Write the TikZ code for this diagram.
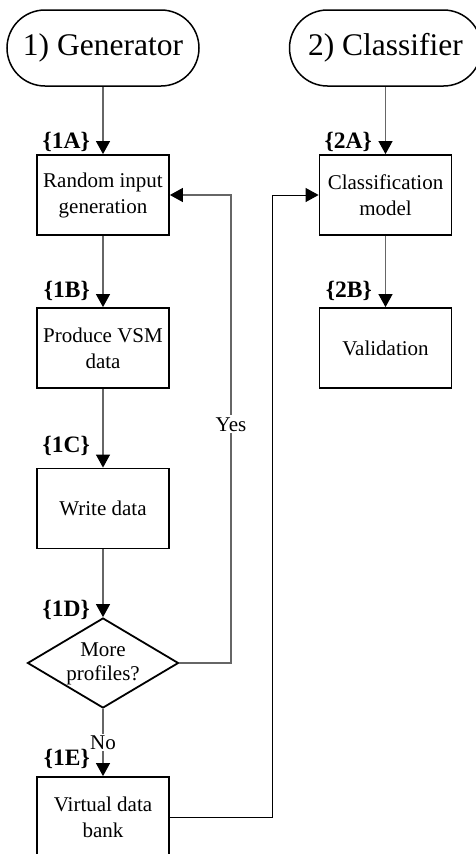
\documentclass[tikz,border=0pt]{standalone}
\usepackage{fontspec}
\setmainfont{Liberation Serif}
\usetikzlibrary{shapes.geometric,shapes.misc,arrows.meta}
\begin{document}
\begin{tikzpicture}[x=1pt,y=-1pt,
  terminal/.style={rounded rectangle, draw, line width=1.5pt,
    minimum width=192pt, minimum height=76pt, inner sep=0pt,
    font=\fontsize{31.5}{36}\selectfont},
  stepbox/.style={draw, line width=1.8pt, minimum width=132pt,
    minimum height=80pt, inner sep=0pt, align=center,
    font=\fontsize{21}{26}\selectfont},
  decision/.style={diamond, draw, line width=1.8pt, minimum width=151pt,
    minimum height=90pt, inner sep=0pt},
  tag/.style={anchor=base east, inner sep=0pt,
    font=\bfseries\fontsize{23.5}{28}\selectfont},
  edgelabel/.style={fill=white, inner sep=2pt,
    font=\fontsize{21}{25}\selectfont},
  tip/.style={-{Triangle[length=13pt,width=14pt,color=black]}},
  flow/.style={draw=black!60, line width=1.1pt, tip},
  link/.style={draw=black, line width=1pt, tip}]
\useasboundingbox (0,0) rectangle (476,854);

% start terminals
\node[terminal] (gen) at (103,48) {1) Generator};
\node[terminal] (cls) at (385.5,48) {2) Classifier};

% generator steps
\node[stepbox] (s1a) at (103,195) {Random input\\generation};
\node[stepbox] (s1b) at (103,348) {Produce VSM\\data};
\node[stepbox] (s1c) at (103,508.5) {Write data};
\node[decision] (d1d) at (103,663) {};
\node[align=center, inner sep=0pt, font=\fontsize{21}{24}\selectfont]
  (d1dtext) at (103,664) {More\\profiles?};
\node[stepbox] (s1e) at (103,817) {Virtual data\\bank};

% classifier steps
\node[stepbox] (s2a) at (385.5,195) {Classification\\model};
\node[stepbox] (s2b) at (385.5,348) {Validation};

% step tags
\node[tag] (t1a) at (90,148) {\{1A\}};
\node[tag] (t1b) at (90,297) {\{1B\}};
\node[tag] (t1c) at (90,452) {\{1C\}};
\node[tag] (t1d) at (90,616) {\{1D\}};
\node[tag] (t1e) at (90,765) {\{1E\}};
\node[tag] (t2a) at (372,148) {\{2A\}};
\node[tag] (t2b) at (372,297) {\{2B\}};

% loop and hand-over corners
\coordinate (yesr) at (231,663);
\coordinate (yest) at (231,195);
\coordinate (bankr) at (272,817);
\coordinate (bankt) at (272,195);

% generator flow
\draw[flow] (gen.south) -- (s1a.north);
\draw[flow] (s1a.south) -- (s1b.north);
\draw[flow] (s1b.south) -- (s1c.north);
\draw[flow] (s1c.south) -- (d1d.north);
\draw[flow] (d1d.south) -- node[edgelabel, pos=0.5] (no) {No} (s1e.north);
\draw[flow] (d1d.east) -- (yesr) -- node[edgelabel, pos=0.51] (yes) {Yes} (yest) -- (s1a.east);

% classifier flow
\draw[flow] (cls.south) -- (s2a.north);
\draw[flow] (s2a.south) -- (s2b.north);
\draw[link] (s1e.east) -- (bankr) -- (bankt) -- (s2a.west);
\end{tikzpicture}
\end{document}
